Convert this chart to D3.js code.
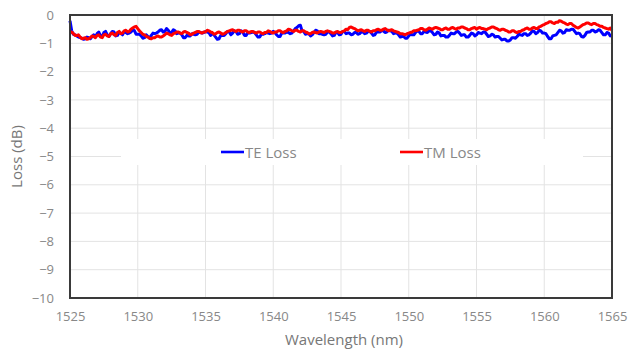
<!DOCTYPE html>
<html>
<head>
<meta charset="utf-8">
<script src="https://cdn.jsdelivr.net/npm/d3@7/dist/d3.min.js"></script>
<style>
  html, body { margin: 0; padding: 0; background: #fff; }
  svg text { font-family: "Open Sans", "Noto Sans", sans-serif; }
</style>
</head>
<body>
<svg id="chart" width="630" height="349"></svg>
<script>
// Wavelength sweep: 1525 nm to 1565 nm, 0.125 nm per sample
const startNm = 1525;
const stepNm = 0.125;

// Measured loss (dB), TE polarization — one row per 4 nm
const teLoss = [
  -0.20,-0.56,-0.68,-0.70,-0.74,-0.78,-0.80,-0.82,-0.86,-0.84,-0.78,-0.80,-0.84,-0.76,-0.70,-0.78,-0.66,-0.60,-0.74,-0.76,-0.62,-0.58,-0.70,-0.76,-0.66,-0.58,-0.60,-0.74,-0.72,-0.62,-0.64,-0.70,
  -0.58,-0.62,-0.66,-0.64,-0.60,-0.52,-0.55,-0.68,-0.68,-0.68,-0.74,-0.82,-0.80,-0.70,-0.76,-0.82,-0.72,-0.64,-0.66,-0.64,-0.60,-0.54,-0.52,-0.60,-0.58,-0.48,-0.54,-0.64,-0.62,-0.52,-0.56,-0.66,
  -0.64,-0.64,-0.70,-0.80,-0.80,-0.72,-0.74,-0.74,-0.66,-0.68,-0.70,-0.68,-0.60,-0.62,-0.64,-0.62,-0.58,-0.60,-0.62,-0.72,-0.66,-0.70,-0.78,-0.86,-0.84,-0.72,-0.72,-0.72,-0.66,-0.58,-0.60,-0.70,
  -0.64,-0.56,-0.58,-0.68,-0.66,-0.56,-0.60,-0.72,-0.72,-0.62,-0.64,-0.62,-0.60,-0.62,-0.70,-0.78,-0.78,-0.68,-0.68,-0.66,-0.62,-0.64,-0.66,-0.64,-0.58,-0.62,-0.70,-0.76,-0.76,-0.64,-0.64,-0.64,
  -0.60,-0.62,-0.66,-0.64,-0.56,-0.48,-0.44,-0.38,-0.36,-0.56,-0.58,-0.68,-0.66,-0.66,-0.74,-0.70,-0.62,-0.54,-0.56,-0.66,-0.66,-0.68,-0.70,-0.68,-0.60,-0.60,-0.66,-0.74,-0.72,-0.62,-0.62,-0.70,
  -0.68,-0.58,-0.58,-0.66,-0.64,-0.64,-0.70,-0.68,-0.62,-0.62,-0.68,-0.66,-0.60,-0.60,-0.66,-0.64,-0.58,-0.58,-0.64,-0.72,-0.70,-0.60,-0.60,-0.60,-0.56,-0.56,-0.62,-0.60,-0.54,-0.56,-0.58,-0.66,
  -0.64,-0.64,-0.70,-0.78,-0.76,-0.76,-0.82,-0.82,-0.74,-0.68,-0.70,-0.70,-0.62,-0.56,-0.58,-0.66,-0.66,-0.58,-0.60,-0.62,-0.56,-0.56,-0.62,-0.70,-0.68,-0.60,-0.64,-0.74,-0.72,-0.72,-0.78,-0.78,
  -0.72,-0.64,-0.66,-0.66,-0.60,-0.58,-0.64,-0.72,-0.70,-0.70,-0.78,-0.78,-0.72,-0.64,-0.66,-0.74,-0.70,-0.62,-0.64,-0.66,-0.60,-0.60,-0.68,-0.76,-0.74,-0.68,-0.70,-0.78,-0.76,-0.76,-0.82,-0.88,
  -0.86,-0.86,-0.92,-0.92,-0.88,-0.80,-0.80,-0.82,-0.76,-0.68,-0.70,-0.72,-0.66,-0.66,-0.72,-0.70,-0.64,-0.56,-0.58,-0.66,-0.62,-0.54,-0.56,-0.64,-0.64,-0.66,-0.76,-0.84,-0.84,-0.74,-0.72,-0.70,
  -0.62,-0.54,-0.56,-0.64,-0.62,-0.52,-0.54,-0.54,-0.50,-0.50,-0.58,-0.66,-0.64,-0.66,-0.76,-0.78,-0.72,-0.62,-0.60,-0.60,-0.54,-0.54,-0.60,-0.58,-0.52,-0.54,-0.62,-0.70,-0.70,-0.62,-0.64,-0.74,
  -0.72
];

// Measured loss (dB), TM polarization — one row per 4 nm
const tmLoss = [
  -0.62,-0.60,-0.66,-0.72,-0.72,-0.70,-0.78,-0.84,-0.82,-0.80,-0.86,-0.84,-0.80,-0.74,-0.76,-0.80,-0.72,-0.70,-0.78,-0.80,-0.70,-0.68,-0.74,-0.76,-0.66,-0.64,-0.70,-0.72,-0.62,-0.58,-0.66,-0.64,
  -0.56,-0.54,-0.60,-0.58,-0.50,-0.46,-0.42,-0.40,-0.48,-0.56,-0.62,-0.68,-0.70,-0.76,-0.78,-0.82,-0.84,-0.80,-0.80,-0.76,-0.74,-0.78,-0.78,-0.74,-0.70,-0.64,-0.66,-0.70,-0.72,-0.66,-0.64,-0.60,
  -0.60,-0.64,-0.66,-0.60,-0.58,-0.62,-0.64,-0.70,-0.68,-0.64,-0.62,-0.58,-0.58,-0.62,-0.64,-0.60,-0.60,-0.54,-0.56,-0.60,-0.62,-0.68,-0.66,-0.62,-0.60,-0.64,-0.68,-0.66,-0.62,-0.58,-0.56,-0.54,
  -0.52,-0.56,-0.58,-0.54,-0.54,-0.58,-0.60,-0.56,-0.56,-0.60,-0.62,-0.58,-0.58,-0.62,-0.64,-0.60,-0.60,-0.64,-0.66,-0.62,-0.62,-0.56,-0.58,-0.62,-0.64,-0.60,-0.60,-0.56,-0.56,-0.60,-0.62,-0.58,
  -0.56,-0.50,-0.52,-0.56,-0.58,-0.54,-0.54,-0.58,-0.60,-0.56,-0.56,-0.60,-0.62,-0.66,-0.66,-0.62,-0.60,-0.62,-0.64,-0.60,-0.58,-0.60,-0.62,-0.58,-0.56,-0.58,-0.60,-0.64,-0.64,-0.60,-0.58,-0.62,
  -0.62,-0.58,-0.56,-0.50,-0.52,-0.44,-0.42,-0.46,-0.48,-0.52,-0.56,-0.54,-0.52,-0.56,-0.58,-0.54,-0.54,-0.58,-0.60,-0.56,-0.56,-0.52,-0.50,-0.54,-0.54,-0.50,-0.48,-0.52,-0.56,-0.54,-0.52,-0.56,
  -0.58,-0.60,-0.62,-0.66,-0.66,-0.68,-0.70,-0.66,-0.64,-0.62,-0.60,-0.56,-0.56,-0.54,-0.52,-0.48,-0.48,-0.52,-0.54,-0.50,-0.46,-0.48,-0.50,-0.46,-0.44,-0.46,-0.48,-0.52,-0.52,-0.48,-0.46,-0.50,
  -0.50,-0.46,-0.44,-0.48,-0.50,-0.46,-0.46,-0.42,-0.42,-0.46,-0.48,-0.52,-0.52,-0.48,-0.46,-0.44,-0.50,-0.46,-0.44,-0.48,-0.48,-0.50,-0.52,-0.48,-0.46,-0.42,-0.42,-0.46,-0.48,-0.52,-0.54,-0.50,
  -0.50,-0.54,-0.56,-0.60,-0.60,-0.56,-0.56,-0.60,-0.62,-0.58,-0.58,-0.54,-0.52,-0.48,-0.46,-0.50,-0.50,-0.46,-0.44,-0.48,-0.48,-0.42,-0.40,-0.36,-0.34,-0.30,-0.28,-0.24,-0.24,-0.28,-0.30,-0.26,
  -0.26,-0.20,-0.22,-0.26,-0.28,-0.32,-0.34,-0.30,-0.30,-0.36,-0.40,-0.44,-0.46,-0.42,-0.38,-0.34,-0.32,-0.28,-0.28,-0.32,-0.34,-0.30,-0.30,-0.34,-0.36,-0.40,-0.40,-0.44,-0.46,-0.48,-0.50,-0.46,
  -0.54
];

const xTicks = [1525, 1530, 1535, 1540, 1545, 1550, 1555, 1560, 1565];
const yTicks = [0, -1, -2, -3, -4, -5, -6, -7, -8, -9, -10];
const seriesNames = ["TE Loss", "TM Loss"];
const seriesColors = ["#0000ff", "#ff0000"];

const svg = d3.select("#chart");
const plot = { left: 70, right: 612, top: 15, bottom: 298 };

const x = d3.scaleLinear().domain([1525, 1565]).range([plot.left, plot.right]);
const y = d3.scaleLinear().domain([-10, 0]).range([plot.bottom, plot.top]);

const gridColor = "#e3e3e3";
const textColor = "#888888";

// Grid lines
const grid = svg.append("g");
grid.selectAll("line.v").data(xTicks.slice(1, -1)).join("line")
  .attr("x1", d => x(d)).attr("x2", d => x(d))
  .attr("y1", plot.top).attr("y2", plot.bottom)
  .attr("stroke", gridColor).attr("stroke-width", 1);
grid.selectAll("line.h").data(yTicks.slice(1, -1)).join("line")
  .attr("x1", plot.left).attr("x2", plot.right)
  .attr("y1", d => y(d)).attr("y2", d => y(d))
  .attr("stroke", gridColor).attr("stroke-width", 1);

// Axes (labels only; the frame is drawn separately)
const xAxis = svg.append("g")
  .attr("transform", `translate(0,${plot.bottom})`)
  .call(d3.axisBottom(x).tickValues(xTicks).tickSize(0).tickPadding(14).tickFormat(d3.format("d")));
const yAxis = svg.append("g")
  .attr("transform", `translate(${plot.left},0)`)
  .call(d3.axisLeft(y).tickValues(yTicks).tickSize(0).tickPadding(16).tickFormat(d3.format("d")));
[xAxis, yAxis].forEach(g => {
  g.select(".domain").remove();
  g.selectAll("text").attr("fill", textColor).attr("font-size", 13);
});

// Loss traces
const line = d3.line()
  .x((d, i) => x(startNm + i * stepNm))
  .y(d => y(d));

const traces = svg.append("g");
[teLoss, tmLoss].forEach((vals, k) => {
  traces.append("path")
    .datum(vals)
    .attr("fill", "none")
    .attr("stroke", seriesColors[k])
    .attr("stroke-width", 3)
    .attr("stroke-linejoin", "round")
    .attr("d", line);
});

// Plot frame
svg.append("rect")
  .attr("x", plot.left).attr("y", plot.top)
  .attr("width", plot.right - plot.left).attr("height", plot.bottom - plot.top)
  .attr("fill", "none").attr("stroke", "#3a3a3a").attr("stroke-width", 2);

// Legend
const legend = svg.append("g");
legend.append("rect")
  .attr("x", 121).attr("y", 139).attr("width", 462).attr("height", 26)
  .attr("fill", "#fff");
const legendX = [221, 400];
seriesNames.forEach((name, k) => {
  legend.append("line")
    .attr("x1", legendX[k]).attr("x2", legendX[k] + 23)
    .attr("y1", 152).attr("y2", 152)
    .attr("stroke", seriesColors[k]).attr("stroke-width", 2.6);
  legend.append("text")
    .attr("x", legendX[k] + 24).attr("y", 157.5)
    .attr("fill", textColor).attr("font-size", 15)
    .text(name);
});

// Axis titles
svg.append("text")
  .attr("x", (plot.left + plot.right) / 2 + 3).attr("y", 345)
  .attr("text-anchor", "middle").attr("fill", "#777")
  .attr("font-size", 15).text("Wavelength (nm)");
svg.append("text")
  .attr("transform", `translate(22,${(plot.top + plot.bottom) / 2}) rotate(-90)`)
  .attr("text-anchor", "middle").attr("fill", "#777")
  .attr("font-size", 15).text("Loss (dB)");
</script>
</body>
</html>
